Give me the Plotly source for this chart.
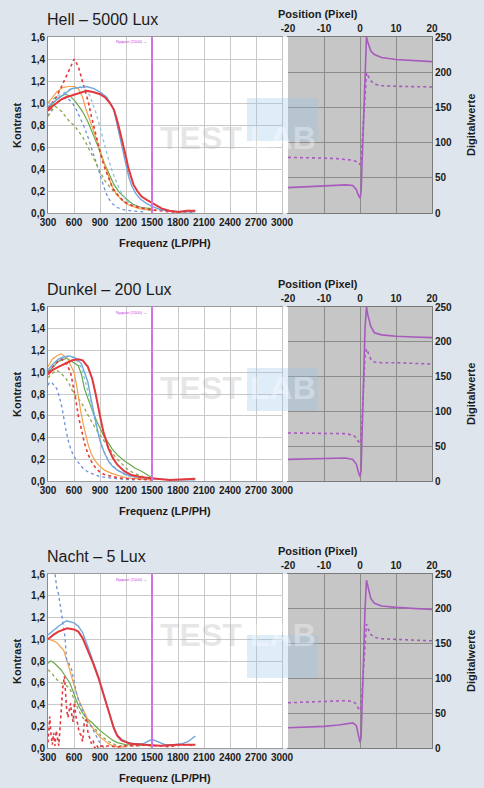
import plotly.graph_objects as go

W, H = 484, 788

# ---------------- tick / label data ----------------
FREQ_TICKS = [300, 600, 900, 1200, 1500, 1800, 2100, 2400, 2700, 3000]
KONTRAST_TICKS = [0.0, 0.2, 0.4, 0.6, 0.8, 1.0, 1.2, 1.4, 1.6]
KONTRAST_LABELS = ["0,0", "0,2", "0,4", "0,6", "0,8", "1,0", "1,2", "1,4", "1,6"]
POS_TICKS = [-20, -10, 0, 10, 20]
POS_LABELS = ["-20", "-10", "0", "10", "20"]
DIGI_TICKS = [0, 50, 100, 150, 200, 250]
PANEL_TITLES = ["Hell – 5000 Lux", "Dunkel – 200 Lux", "Nacht – 5 Lux"]
NYQUIST = 1500

# ---------------- MTF data: Hell ----------------
hell_red_x = [300, 350, 400, 450, 500, 575, 650, 745, 820, 900, 960, 1015, 1060, 1092, 1130, 1170, 1200, 1227, 1255, 1285, 1330, 1380, 1440, 1500, 1560, 1615, 1700, 1800, 1900, 2000]
hell_red_y = [0.93, 0.97, 1.0, 1.03, 1.05, 1.07, 1.09, 1.11, 1.10, 1.08, 1.05, 1.0, 0.94, 0.86, 0.74, 0.62, 0.51, 0.41, 0.33, 0.26, 0.2, 0.15, 0.12, 0.09, 0.06, 0.04, 0.02, 0.01, 0.02, 0.02]
hell_blue_x = [300, 350, 420, 500, 573, 650, 745, 830, 919, 980, 1035, 1065, 1092, 1120, 1150, 1180, 1208, 1235, 1265, 1310, 1362, 1430, 1500, 1600, 1700, 1850, 2000]
hell_blue_y = [0.97, 1.0, 1.04, 1.09, 1.13, 1.14, 1.15, 1.13, 1.09, 1.05, 0.98, 0.92, 0.83, 0.73, 0.62, 0.51, 0.41, 0.32, 0.25, 0.18, 0.13, 0.09, 0.06, 0.03, 0.02, 0.01, 0.01]
hell_reddot_x = [300, 350, 400, 450, 500, 550, 603, 650, 689, 730, 765, 800, 842, 880, 919, 960, 996, 1050, 1111, 1180, 1260, 1350, 1500, 1700, 2000]
hell_reddot_y = [0.95, 1.0, 1.06, 1.14, 1.22, 1.31, 1.40, 1.33, 1.22, 1.10, 1.01, 0.88, 0.74, 0.62, 0.50, 0.40, 0.32, 0.22, 0.16, 0.10, 0.07, 0.05, 0.03, 0.01, 0.01]
hell_orange_x = [300, 350, 400, 470, 535, 600, 650, 700, 735, 790, 842, 890, 938, 985, 1035, 1090, 1150, 1210, 1270, 1350, 1450, 1550]
hell_orange_y = [1.0, 1.05, 1.1, 1.14, 1.15, 1.15, 1.13, 1.05, 0.95, 0.83, 0.71, 0.59, 0.47, 0.36, 0.25, 0.17, 0.12, 0.08, 0.06, 0.04, 0.03, 0.02]
hell_cyan_x = [300, 400, 500, 580, 650, 720, 780, 850, 900, 950, 1000, 1050, 1100, 1150, 1200, 1250, 1320, 1400, 1500]
hell_cyan_y = [1.0, 1.06, 1.1, 1.14, 1.15, 1.13, 1.07, 0.92, 0.78, 0.62, 0.48, 0.36, 0.26, 0.18, 0.12, 0.08, 0.05, 0.03, 0.02]
hell_green_x = [300, 360, 420, 500, 560, 620, 700, 760, 820, 880, 940, 1000, 1060, 1120, 1200, 1280, 1380, 1500]
hell_green_y = [0.95, 1.0, 1.05, 1.08, 1.06, 1.01, 0.92, 0.83, 0.72, 0.6, 0.47, 0.36, 0.26, 0.19, 0.13, 0.08, 0.05, 0.04]
hell_olive_x = [300, 340, 380, 420, 460, 520, 560, 600, 650, 700, 750, 800, 850, 900, 950, 1000, 1050, 1100, 1150, 1200, 1280, 1400, 1500]
hell_olive_y = [0.88, 0.93, 0.97, 0.95, 0.92, 0.86, 0.82, 0.80, 0.75, 0.69, 0.62, 0.54, 0.45, 0.37, 0.3, 0.25, 0.2, 0.16, 0.12, 0.09, 0.06, 0.04, 0.02]
hell_bluedot_x = [300, 350, 400, 450, 520, 580, 620, 670, 720, 770, 820, 870, 920, 960, 1000, 1050, 1100, 1170, 1250, 1400]
hell_bluedot_y = [0.88, 0.96, 1.0, 1.03, 1.05, 1.0, 0.95, 0.87, 0.78, 0.67, 0.55, 0.42, 0.30, 0.20, 0.13, 0.08, 0.05, 0.03, 0.02, 0.01]

# ---------------- MTF data: Dunkel ----------------
dunkel_red_x = [300, 350, 420, 500, 580, 650, 700, 760, 810, 850, 880, 910, 940, 970, 997, 1050, 1100, 1180, 1265, 1380, 1500, 1700, 2000]
dunkel_red_y = [0.98, 1.02, 1.05, 1.08, 1.11, 1.12, 1.11, 1.05, 0.94, 0.8, 0.67, 0.56, 0.45, 0.37, 0.30, 0.21, 0.15, 0.09, 0.055, 0.035, 0.025, 0.01, 0.02]
dunkel_blue_x = [300, 350, 420, 480, 550, 620, 685, 720, 760, 795, 830, 865, 900, 950, 1000, 1050, 1100, 1200, 1300, 1500, 1800, 2000]
dunkel_blue_y = [1.02, 1.07, 1.12, 1.14, 1.15, 1.13, 1.08, 1.0, 0.91, 0.76, 0.61, 0.49, 0.37, 0.26, 0.18, 0.13, 0.1, 0.06, 0.04, 0.02, 0.01, 0.01]
dunkel_green_x = [300, 360, 420, 515, 580, 650, 690, 720, 760, 800, 830, 880, 940, 990, 1035, 1100, 1190, 1250, 1300, 1380, 1440, 1500]
dunkel_green_y = [1.0, 1.05, 1.1, 1.13, 1.1, 1.06, 0.97, 0.85, 0.76, 0.67, 0.61, 0.52, 0.42, 0.36, 0.30, 0.24, 0.18, 0.15, 0.12, 0.09, 0.06, 0.03]
dunkel_olive_x = [300, 350, 400, 450, 500, 540, 600, 650, 700, 750, 800, 850, 900, 950, 1000, 1050, 1100, 1150, 1200, 1250, 1300, 1400, 1500]
dunkel_olive_y = [0.95, 0.99, 1.02, 0.99, 0.95, 0.9, 0.8, 0.76, 0.7, 0.62, 0.55, 0.48, 0.42, 0.36, 0.3, 0.25, 0.2, 0.16, 0.12, 0.09, 0.07, 0.04, 0.02]
dunkel_orange_x = [300, 350, 400, 450, 520, 600, 630, 650, 680, 710, 740, 765, 800, 840, 880, 950, 1035, 1120, 1200, 1350, 1500]
dunkel_orange_y = [1.05, 1.12, 1.15, 1.17, 1.13, 1.0, 0.88, 0.76, 0.63, 0.51, 0.41, 0.33, 0.25, 0.19, 0.15, 0.1, 0.07, 0.05, 0.03, 0.02, 0.01]
dunkel_reddot_x = [300, 350, 400, 450, 500, 560, 590, 620, 650, 690, 720, 760, 800, 850, 900, 950, 1000, 1100, 1250, 1500]
dunkel_reddot_y = [1.0, 1.05, 1.09, 1.12, 1.1, 1.0, 0.88, 0.75, 0.6, 0.45, 0.35, 0.25, 0.18, 0.12, 0.08, 0.06, 0.05, 0.03, 0.02, 0.01]
dunkel_bluedot_x = [300, 320, 350, 400, 430, 460, 500, 530, 560, 590, 620, 660, 700, 750, 800, 900, 1000, 1100, 1300]
dunkel_bluedot_y = [0.88, 0.91, 0.9, 0.85, 0.78, 0.68, 0.5, 0.38, 0.3, 0.24, 0.2, 0.16, 0.12, 0.09, 0.07, 0.04, 0.03, 0.02, 0.01]
dunkel_cyan_x = [300, 400, 500, 560, 620, 680, 730, 780, 830, 880, 930, 1000, 1100, 1200, 1350]
dunkel_cyan_y = [1.0, 1.1, 1.14, 1.15, 1.12, 1.05, 0.92, 0.75, 0.58, 0.43, 0.3, 0.18, 0.1, 0.05, 0.02]

# ---------------- MTF data: Nacht ----------------
nacht_blue_x = [300, 360, 420, 515, 600, 650, 700, 760, 820, 880, 930, 977, 1020, 1054, 1100, 1150, 1220, 1300, 1400, 1450, 1500, 1560, 1650, 1750, 1850, 1920, 2000]
nacht_blue_y = [1.04, 1.08, 1.12, 1.17, 1.15, 1.12, 1.06, 0.93, 0.8, 0.66, 0.53, 0.41, 0.29, 0.2, 0.12, 0.08, 0.05, 0.04, 0.04, 0.06, 0.08, 0.06, 0.03, 0.03, 0.04, 0.06, 0.11]
nacht_red_x = [300, 360, 420, 520, 600, 650, 700, 760, 820, 880, 930, 980, 1020, 1060, 1100, 1150, 1250, 1400, 1500, 1600, 1800, 2000]
nacht_red_y = [1.0, 1.04, 1.07, 1.1, 1.09, 1.07, 1.01, 0.9, 0.78, 0.65, 0.52, 0.4, 0.28, 0.18, 0.11, 0.07, 0.04, 0.03, 0.03, 0.02, 0.03, 0.03]
nacht_orange_x = [300, 350, 400, 450, 480, 520, 560, 600, 650, 700, 760, 800, 850, 900, 950, 1000, 1050, 1100, 1200]
nacht_orange_y = [1.0, 0.99, 0.97, 0.93, 0.9, 0.8, 0.7, 0.58, 0.45, 0.36, 0.26, 0.2, 0.15, 0.1, 0.07, 0.04, 0.02, 0.01, 0.01]
nacht_green_x = [300, 330, 360, 400, 450, 500, 550, 590, 620, 660, 700, 750, 800, 850, 900, 950, 1000, 1050, 1100, 1200, 1350, 1500]
nacht_green_y = [0.78, 0.8, 0.79, 0.76, 0.72, 0.66, 0.6, 0.52, 0.45, 0.38, 0.32, 0.27, 0.24, 0.2, 0.16, 0.13, 0.1, 0.07, 0.05, 0.03, 0.03, 0.02]
nacht_olive_x = [300, 350, 400, 450, 500, 550, 600, 650, 700, 750, 800, 850, 900, 950, 1000, 1050, 1100, 1200, 1400]
nacht_olive_y = [0.72, 0.68, 0.63, 0.6, 0.58, 0.55, 0.45, 0.35, 0.28, 0.24, 0.2, 0.17, 0.12, 0.09, 0.06, 0.04, 0.02, 0.02, 0.02]
nacht_bluedot_x = [300, 330, 360, 381, 400, 420, 438, 460, 480, 496, 515, 540, 573, 600, 630, 660, 700, 730, 765, 800, 830, 862, 890, 920, 950]
nacht_bluedot_y = [1.75, 1.7, 1.65, 1.6, 1.48, 1.42, 1.33, 1.2, 1.1, 1.02, 0.81, 0.78, 0.72, 0.6, 0.5, 0.42, 0.35, 0.3, 0.23, 0.2, 0.15, 0.1, 0.06, 0.03, 0.0]
nacht_reddot_x = [300, 310, 320, 335, 350, 365, 380, 395, 410, 425, 440, 455, 470, 490, 505, 515, 530, 545, 560, 575, 590, 605, 620, 640, 660, 680, 700, 720, 740, 760, 780, 800, 820, 840, 860, 880, 900, 950, 1000, 1100, 1200, 1300, 1400, 1500, 1600, 1700, 1800, 1900, 2000]
nacht_reddot_y = [0.05, 0.22, 0.29, 0.12, 0.03, 0.14, 0.02, 0.16, 0.08, 0.02, 0.2, 0.38, 0.55, 0.66, 0.45, 0.36, 0.28, 0.35, 0.41, 0.3, 0.24, 0.42, 0.3, 0.23, 0.14, 0.12, 0.06, 0.25, 0.26, 0.15, 0.1, 0.04, 0.07, 0.0, 0.03, 0.0, 0.02, 0.01, 0.02, 0.01, 0.02, 0.02, 0.03, 0.02, 0.02, 0.01, 0.03, 0.03, 0.02]

# ---------------- Edge profiles (Position vs Digitalwerte) ----------------
esf_x = [-20, -15, -10, -6, -4, -2, -1, -0.5, 0, 0.3, 0.7, 1.0, 1.4, 1.8, 2.2, 3, 4, 6, 10, 15, 20]
hell_esf_solid = [36, 37, 38, 39, 40, 39, 33, 26, 21, 30, 90, 150, 215, 250, 242, 230, 225, 221, 218, 216, 215]
hell_esf_dashed = [79, 79, 78, 77, 76, 75, 73, 71, 69, 75, 110, 140, 180, 199, 195, 188, 183, 181, 180, 179, 179]
dunkel_esf_solid = [31, 31.5, 32, 33, 33, 31, 24, 14, 6, 15, 80, 150, 220, 250, 238, 222, 213, 210, 208, 207, 206]
dunkel_esf_dashed = [69, 69, 69, 69, 68, 66, 62, 57, 54, 62, 100, 140, 180, 190, 185, 175, 171, 170, 170, 169, 168]
nacht_esf_solid = [29, 30, 31, 33, 35, 36, 32, 20, 8, 15, 70, 130, 200, 241, 232, 215, 208, 204, 202, 200, 199]
nacht_esf_dashed = [65, 66, 66, 67, 68, 67, 63, 57, 54, 60, 95, 125, 160, 178, 172, 163, 159, 157, 156, 155, 154]

# ---------------- styles ----------------
RED, BLUE, GREEN, ORANGE = "#e2383e", "#6fa6dc", "#6aa84f", "#f4a148"
OLIVE, BLUEDOT, CYAN, PURPLE = "#8ea64a", "#6f8fd6", "#86c6d8", "#a85bbd"
STYLE = {
    "red": (RED, "solid", 2.0), "blue": (BLUE, "solid", 1.4), "green": (GREEN, "solid", 1.2),
    "orange": (ORANGE, "solid", 1.2), "reddot": (RED, "dot", 1.6), "cyan": (CYAN, "dot", 1.3),
    "olive": (OLIVE, "dot", 1.3), "bluedot": (BLUEDOT, "dot", 1.3),
}

panels = [
    [("bluedot", hell_bluedot_x, hell_bluedot_y), ("olive", hell_olive_x, hell_olive_y),
     ("green", hell_green_x, hell_green_y), ("cyan", hell_cyan_x, hell_cyan_y),
     ("orange", hell_orange_x, hell_orange_y), ("reddot", hell_reddot_x, hell_reddot_y),
     ("blue", hell_blue_x, hell_blue_y), ("red", hell_red_x, hell_red_y)],
    [("bluedot", dunkel_bluedot_x, dunkel_bluedot_y), ("olive", dunkel_olive_x, dunkel_olive_y),
     ("green", dunkel_green_x, dunkel_green_y), ("cyan", dunkel_cyan_x, dunkel_cyan_y),
     ("orange", dunkel_orange_x, dunkel_orange_y), ("reddot", dunkel_reddot_x, dunkel_reddot_y),
     ("blue", dunkel_blue_x, dunkel_blue_y), ("red", dunkel_red_x, dunkel_red_y)],
    [("olive", nacht_olive_x, nacht_olive_y), ("green", nacht_green_x, nacht_green_y),
     ("orange", nacht_orange_x, nacht_orange_y), ("bluedot", nacht_bluedot_x, nacht_bluedot_y),
     ("reddot", nacht_reddot_x, nacht_reddot_y),
     ("blue", nacht_blue_x, nacht_blue_y), ("red", nacht_red_x, nacht_red_y)],
]
esf = [(hell_esf_solid, hell_esf_dashed), (dunkel_esf_solid, dunkel_esf_dashed),
       (nacht_esf_solid, nacht_esf_dashed)]

# pixel layout
TOPS = [37, 307, 574]
HEIGHTS = [176, 174, 174]
LX0, LX1 = 48, 282
RX0, RX1 = 288, 432


def fx(p):
    return p / W


def fy(p):
    return 1 - p / H


def ax(letter, n):
    return letter if n == 1 else f"{letter}{n}"


FONT = "Liberation Sans, Arial, sans-serif"
TXT = "#1b1b1b"

fig = go.Figure()
layout = dict(
    template="none", autosize=False,
    width=W, height=H, margin=dict(l=0, r=0, t=0, b=0, pad=0),
    paper_bgcolor="#dfe5ec", plot_bgcolor="#ffffff", showlegend=False,
    font=dict(family=FONT, color=TXT),
)
shapes, annotations = [], []

for i in range(3):
    top, hgt = TOPS[i], HEIGHTS[i]
    bot = top + hgt
    lx, rx = 2 * i + 1, 2 * i + 2
    ydom = [fy(bot), fy(top)]

    # --- left MTF plot ---
    layout[f"xaxis{lx}"] = dict(
        domain=[fx(LX0), fx(LX1)], anchor=ax("y", lx), range=[300, 3000], automargin=False,
        tickmode="array", tickvals=FREQ_TICKS, ticktext=[str(t) for t in FREQ_TICKS],
        tickfont=dict(size=10, family=FONT, color=TXT, weight="bold"),
        showgrid=True, gridcolor="#c9c9c9", gridwidth=1, zeroline=False,
        showline=True, mirror=True, linecolor="#9a9a9a", linewidth=1, ticks="",
    )
    layout[f"yaxis{lx}"] = dict(
        domain=ydom, anchor=ax("x", lx), range=[0, 1.6], automargin=False,
        tickmode="array", tickvals=KONTRAST_TICKS, ticktext=KONTRAST_LABELS,
        tickfont=dict(size=10, family=FONT, color=TXT, weight="bold"),
        showgrid=True, gridcolor="#c9c9c9", gridwidth=1, zeroline=False,
        showline=True, mirror=True, linecolor="#8a8a8a", linewidth=1, ticks="",
    )
    for key, xs, ys in panels[i]:
        col, dash, w = STYLE[key]
        fig.add_trace(go.Scatter(x=xs, y=ys, mode="lines", xaxis=ax("x", lx), yaxis=ax("y", lx),
                                 line=dict(color=col, dash=dash, width=w), hoverinfo="skip"))
    # Nyquist line
    shapes.append(dict(type="line", xref=ax("x", lx), yref=ax("y", lx) + " domain", x0=NYQUIST, x1=NYQUIST,
                       y0=0, y1=1, line=dict(color="#d273e3", width=2)))
    annotations.append(dict(xref=ax("x", lx), yref="paper", x=NYQUIST - 40, y=fy(top + 5),
                            text="Nyquist (1500) →", showarrow=False, xanchor="right",
                            yanchor="middle", font=dict(size=4, color="#c040e0", family=FONT)))

    # --- right edge profile plot ---
    layout[f"xaxis{rx}"] = dict(
        domain=[fx(RX0), fx(RX1)], anchor=ax("y", rx), side="top", range=[-20, 20], automargin=False,
        tickmode="array", tickvals=POS_TICKS, ticktext=POS_LABELS,
        tickfont=dict(size=10, family=FONT, color=TXT, weight="bold"),
        showgrid=True, gridcolor="#8c8c8c", gridwidth=1, zeroline=False,
        showline=True, mirror=True, linecolor="#7a7a7a", linewidth=1, ticks="",
    )
    layout[f"yaxis{rx}"] = dict(
        domain=ydom, anchor=ax("x", rx), side="right", range=[0, 250], automargin=False,
        tickmode="array", tickvals=DIGI_TICKS,
        tickfont=dict(size=10, family=FONT, color=TXT, weight="bold"),
        showgrid=True, gridcolor="#8c8c8c", gridwidth=1, zeroline=False,
        showline=True, mirror=True, linecolor="#7a7a7a", linewidth=1, ticks="",
    )
    shapes.append(dict(type="rect", xref=ax("x", rx) + " domain", yref=ax("y", rx) + " domain",
                       x0=0, x1=1, y0=0, y1=1,
                       fillcolor="#c6c6c6", line=dict(width=0), layer="below"))
    solid, dashed = esf[i]
    fig.add_trace(go.Scatter(x=esf_x, y=dashed, mode="lines", xaxis=ax("x", rx), yaxis=ax("y", rx),
                             line=dict(color=PURPLE, dash="dot", width=1.6), hoverinfo="skip"))
    fig.add_trace(go.Scatter(x=esf_x, y=solid, mode="lines", xaxis=ax("x", rx), yaxis=ax("y", rx),
                             line=dict(color=PURPLE, width=1.6), hoverinfo="skip"))

    # white strip between the plots
    shapes.append(dict(type="rect", xref="paper", yref="paper", x0=fx(LX1 + 0.5), x1=fx(RX0),
                       y0=fy(bot), y1=fy(top), fillcolor="#ffffff", line=dict(width=0), layer="above"))

    # watermark
    shapes.append(dict(type="rect", xref="paper", yref="paper", x0=fx(247), x1=fx(318),
                       y0=fy(top + 104), y1=fy(top + 61), fillcolor="rgba(150,195,235,0.3)",
                       line=dict(width=0), layer="above"))
    annotations.append(dict(xref="paper", yref="paper", x=fx(201), y=fy(top + 81), text="<b>TEST</b>",
                            showarrow=False, font=dict(size=32, color="rgba(185,185,185,0.35)", family=FONT)))
    annotations.append(dict(xref="paper", yref="paper", x=fx(283), y=fy(top + 81), text="<b>LAB</b>",
                            showarrow=False, font=dict(size=32, color="rgba(255,255,255,0.35)", family=FONT)))

    # titles and axis titles
    annotations.append(dict(xref="paper", yref="paper", x=fx(45), y=fy(top - 18), text=PANEL_TITLES[i],
                            showarrow=False, xanchor="left", yanchor="middle",
                            font=dict(size=16, color=TXT, family=FONT)))
    annotations.append(dict(xref="paper", yref="paper", x=fx((LX0 + LX1) / 2), y=fy(bot + 30),
                            text="<b>Frequenz (LP/PH)</b>", showarrow=False, yanchor="middle",
                            font=dict(size=11, color=TXT, family=FONT)))
    annotations.append(dict(xref="paper", yref="paper", x=fx(17), y=fy(top + hgt / 2),
                            text="<b>Kontrast</b>", showarrow=False, textangle=-90,
                            xanchor="center", yanchor="middle", font=dict(size=11, color=TXT, family=FONT)))
    annotations.append(dict(xref="paper", yref="paper", x=fx(360), y=fy(top - 23),
                            text="<b>Position (Pixel)</b>", showarrow=False, yanchor="middle",
                            font=dict(size=11, color=TXT, family=FONT)))
    annotations.append(dict(xref="paper", yref="paper", x=fx(471), y=fy(top + hgt / 2),
                            text="<b>Digitalwerte</b>", showarrow=False, textangle=-90,
                            xanchor="center", yanchor="middle", font=dict(size=11, color=TXT, family=FONT)))

layout["shapes"] = shapes
layout["annotations"] = annotations
fig.update_layout(**layout)
fig.write_html(
    "out.html",
    config={"displayModeBar": False, "responsive": False},
    post_script="document.body.style.margin='0';document.body.style.padding='0';"
                "document.body.style.overflow='hidden';document.documentElement.style.overflow='hidden';",
)
